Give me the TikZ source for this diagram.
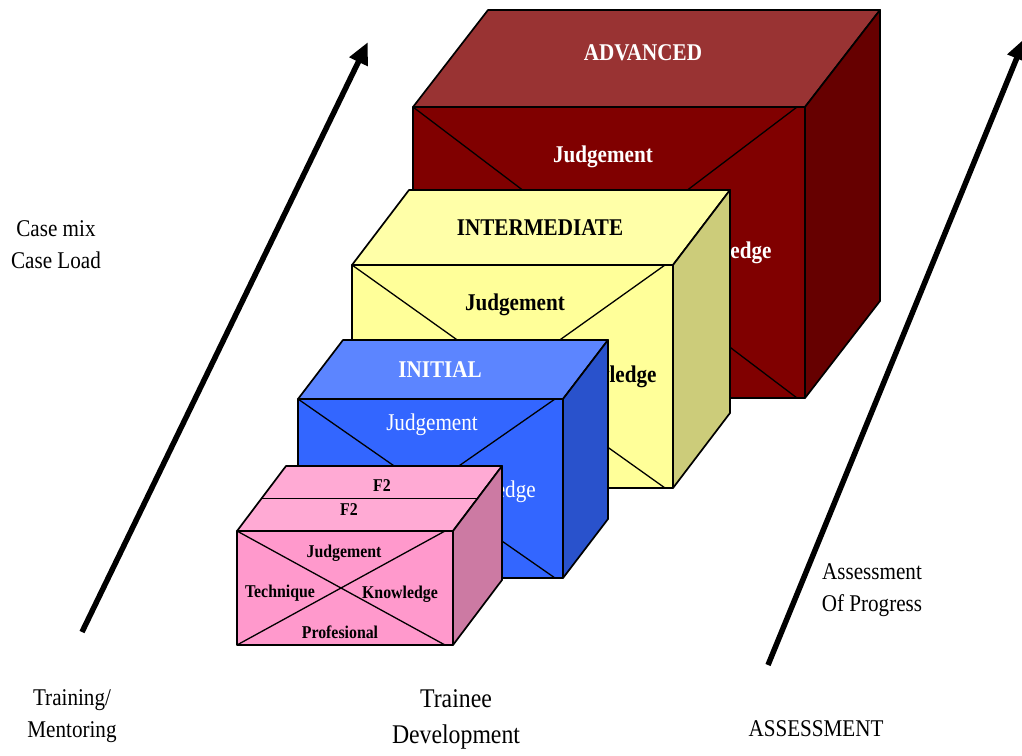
\documentclass[tikz,border=0pt]{standalone}
\usepackage{fontspec}
\setmainfont{Liberation Serif}[FakeStretch=0.88]
\usepackage{xcolor}
\definecolor{advfront}{HTML}{800000}
\definecolor{advtop}{HTML}{993333}
\definecolor{advside}{HTML}{660000}
\definecolor{intfront}{HTML}{FFFF99}
\definecolor{inttop}{HTML}{FFFFA8}
\definecolor{intside}{HTML}{CCCC7A}
\definecolor{inifront}{HTML}{3366FF}
\definecolor{initop}{HTML}{5C85FF}
\definecolor{iniside}{HTML}{2952CC}
\definecolor{ftwofront}{HTML}{FF99CC}
\definecolor{ftwotop}{HTML}{FFAAD4}
\definecolor{ftwoside}{HTML}{CC7AA3}
\usepackage{tikz}
\usetikzlibrary{arrows.meta, calc}

% one level block: name, left, top, right, bottom, depth x, depth y, colour prefix
\newcommand{\levelbox}[8]{%
  \coordinate (#1tl) at (#2,#3);
  \coordinate (#1tr) at (#4,#3);
  \coordinate (#1br) at (#4,#5);
  \coordinate (#1bl) at (#2,#5);
  \coordinate (#1btl) at ($(#1tl)+(#6,#7)$);
  \coordinate (#1btr) at ($(#1tr)+(#6,#7)$);
  \coordinate (#1bbr) at ($(#1br)+(#6,#7)$);
  \draw[boxedge, fill=#8top] (#1tl) -- (#1btl) -- (#1btr) -- (#1tr) -- cycle;
  \draw[boxedge, fill=#8side] (#1tr) -- (#1btr) -- (#1bbr) -- (#1br) -- cycle;
  \draw[boxedge, fill=#8front] (#1tl) rectangle (#1br);
  \draw[crossline] (#1tl) -- ($(#1br)+(-8,0)$);
  \draw[crossline] ($(#1tr)+(-8,0)$) -- (#1bl);
}

\begin{document}
\begin{tikzpicture}[
  x=1pt, y=-1pt,
  boxedge/.style={draw=black, line width=1.7pt, line join=round},
  crossline/.style={draw=black, line width=1.3pt},
  bigarrow/.style={line width=5.5pt, -{Triangle[length=22pt, width=19pt]}},
  headbold/.style={font=\bfseries\fontsize{24}{28}\selectfont, anchor=base, inner sep=0pt},
  facetext/.style={font=\fontsize{24}{28}\selectfont, anchor=base, inner sep=0pt},
  smallbold/.style={font=\bfseries\fontsize{18}{20}\selectfont, anchor=base, inner sep=0pt},
  sidetext/.style={font=\fontsize{24}{32}\selectfont, align=center, anchor=base, inner sep=0pt}
]
\useasboundingbox (0,0) rectangle (1022,755);

% Advanced
\levelbox{adv}{413}{107}{805}{398}{75}{-97}{adv}
\node[headbold, text=white] (advTitle) at (643,60) {ADVANCED};
\node[headbold, text=white] (advJudge) at (603,162) {Judgement};
\node[headbold, text=white] (advKnow) at (721,258) {Knowledge};

% Intermediate
\levelbox{int}{352}{265}{673}{488}{57}{-75}{int}
\node[headbold] (intTitle) at (540,235) {INTERMEDIATE};
\node[headbold] (intJudge) at (515,310) {Judgement};
\node[headbold] (intKnow) at (606,382) {Knowledge};

% Initial
\levelbox{ini}{298}{399}{563}{578}{45}{-59}{ini}
\node[headbold, text=white] (iniTitle) at (440,377) {INITIAL};
\node[facetext, text=white] (iniJudge) at (432,430) {Judgement};
\node[facetext, text=white] (iniKnow) at (487,497) {Knowledge};

% F2
\levelbox{ftwo}{237}{531}{453}{645}{49}{-65}{ftwo}
\draw[boxedge] ($(ftwotl)!0.5!(ftwobtl)$) -- ($(ftwotr)!0.5!(ftwobtr)$);
\node[smallbold] (ftwoBack) at (382,491) {F2};
\node[smallbold] (ftwoFront) at (349,515) {F2};
\node[smallbold] (ftwoJudge) at (344,557) {Judgement};
\node[smallbold] (ftwoTech) at (280,597) {Technique};
\node[smallbold] (ftwoKnow) at (400,598) {Knowledge};
\node[smallbold] (ftwoProf) at (340,638) {Profesional};

% Arrows
\coordinate (trainTail) at (82,632);
\coordinate (trainTip) at (368,42);
\coordinate (assessTail) at (768,665);
\coordinate (assessTip) at (1025,38);
\draw[bigarrow] (trainTail) -- (trainTip);
\draw[bigarrow] (assessTail) -- (assessTip);

% Side labels
\node[sidetext] (caseLabel) at (56,268) {Case mix\\Case Load};
\node[sidetext] (trainLabel) at (72,737) {Training/\\Mentoring};
\node[sidetext, font=\fontsize{27}{36}\selectfont] (devLabel) at (456,743) {Trainee\\Development};
\node[sidetext] (progLabel) at (872,611) {Assessment\\Of Progress};
\node[sidetext] (assessLabel) at (816,736) {ASSESSMENT};

\end{tikzpicture}
\end{document}
